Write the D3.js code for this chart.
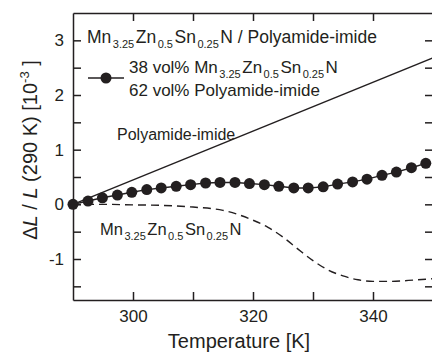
<!DOCTYPE html>
<html>
<head>
<meta charset="utf-8">
<script src="https://cdn.jsdelivr.net/npm/d3@7"></script>
<style>
  body { margin: 0; background: #fff; }
  svg { display: block; font-family: "Liberation Sans", Arial, sans-serif; }
  .axis path, .axis line { stroke: #231f20; stroke-width: 1.5; }
  .axis text { fill: #231f20; font-size: 17px; font-family: "Liberation Sans", Arial, sans-serif; }
</style>
</head>
<body>
<div id="plot"></div>
<script>
// composite: 38 vol% Mn3.25Zn0.5Sn0.25N / 62 vol% polyamide-imide
const compT = [290.0, 292.5, 294.9, 297.4, 299.8, 302.3, 304.7, 307.2, 309.6, 312.1, 314.5, 317.0, 319.4,
               321.9, 324.3, 326.8, 329.2, 331.7, 334.1, 336.6, 339.0, 341.5, 343.9, 346.4, 348.8];
const compDL = [0, 0.06, 0.12, 0.17, 0.22, 0.27, 0.30, 0.33, 0.36, 0.39, 0.40, 0.40, 0.38,
                0.36, 0.33, 0.30, 0.30, 0.32, 0.37, 0.41, 0.46, 0.53, 0.59, 0.67, 0.75];

// pure polyamide-imide (straight line)
const paiT = [290, 350];
const paiDL = [0, 2.68];

// pure Mn3.25Zn0.5Sn0.25N (dashed)
const mnT = [290, 295, 300, 305, 310, 315, 320, 322.5, 325, 327.5, 330, 332.5, 335, 337.5, 340, 342.5, 345, 347.5, 350];
const mnDL = [0, 0, -0.01, -0.02, -0.05, -0.11, -0.29, -0.42, -0.6, -0.82, -1.03, -1.2, -1.31, -1.38, -1.41, -1.41, -1.40, -1.38, -1.36];

const xTicks = [300, 310, 320, 330, 340];
const xLabels = [300, 320, 340];
const yTicks = [-1.5, -1, -0.5, 0, 0.5, 1, 1.5, 2, 2.5, 3];

const W = 432, H = 352;
const m = {left: 73, right: 433, top: 13, bottom: 300};
const ink = "#231f20";

const svg = d3.select("#plot").append("svg")
    .attr("width", W)
    .attr("height", H);

const x = d3.scaleLinear().domain([290, 350]).range([m.left, m.right]);
const y = d3.scaleLinear().domain([-1.75, 3.5]).range([m.bottom, m.top]);

// axes, ticks pointing inward
svg.append("g").attr("class", "axis")
    .attr("transform", `translate(0,${m.bottom})`)
    .call(d3.axisBottom(x).tickValues(xTicks).tickSize(-8).tickSizeOuter(0).tickPadding(10)
        .tickFormat(d => xLabels.includes(d) ? d : ""));
svg.append("g").attr("class", "axis")
    .attr("transform", `translate(0,${m.top})`)
    .call(d3.axisTop(x).tickValues(xTicks).tickSize(-8).tickSizeOuter(0).tickFormat(""));
svg.append("g").attr("class", "axis")
    .attr("transform", `translate(${m.left},0)`)
    .call(d3.axisLeft(y).tickValues(yTicks).tickSize(-8).tickSizeOuter(0).tickPadding(9)
        .tickFormat(d => Number.isInteger(d) ? (d < 0 ? "-" + Math.abs(d) : d) : ""));
svg.append("g").attr("class", "axis")
    .attr("transform", `translate(${m.right},0)`)
    .call(d3.axisRight(y).tickValues(yTicks).tickSize(-8).tickSizeOuter(0).tickFormat(""));

const line = d3.line().x(d => x(d[0])).y(d => y(d[1]));

// polyamide-imide
svg.append("path")
    .datum(d3.zip(paiT, paiDL))
    .attr("d", line)
    .attr("fill", "none")
    .attr("stroke", ink)
    .attr("stroke-width", 1.4);

// Mn3.25Zn0.5Sn0.25N
svg.append("path")
    .datum(d3.zip(mnT, mnDL))
    .attr("d", line.curve(d3.curveMonotoneX))
    .attr("fill", "none")
    .attr("stroke", ink)
    .attr("stroke-width", 1.4)
    .attr("stroke-dasharray", "8,5");

// composite
const comp = d3.zip(compT, compDL);
svg.append("path")
    .datum(comp)
    .attr("d", d3.line().x(d => x(d[0])).y(d => y(d[1])))
    .attr("fill", "none")
    .attr("stroke", ink)
    .attr("stroke-width", 1.4);
svg.selectAll("circle.pt")
    .data(comp)
    .enter().append("circle")
    .attr("class", "pt")
    .attr("cx", d => x(d[0]))
    .attr("cy", d => y(d[1]))
    .attr("r", 5.5)
    .attr("fill", ink);

// text with sub/superscripts: parts are [string, kind]
function rich(sel, parts, size) {
    const sub = Math.round(size * 0.65);
    let shift = 0;
    parts.forEach(([s, kind]) => {
        const t = sel.append("tspan").text(s);
        let want = 0;
        if (kind === "sub") { want = size * 0.28; t.attr("font-size", sub).attr("dx", 1.5); }
        if (kind === "sup") { want = -size * 0.42; t.attr("font-size", sub); }
        if (kind === "it") t.attr("font-style", "italic");
        if (!kind && shift > 0) t.attr("dx", 1.5);
        t.attr("dy", want - shift);
        shift = want;
    });
}

function label(px, py, parts, size) {
    const t = svg.append("text")
        .attr("x", px).attr("y", py)
        .attr("font-size", size)
        .attr("fill", ink);
    rich(t, parts, size);
    return t;
}

const mnParts = [["Mn"], ["3.25", "sub"], ["Zn"], ["0.5", "sub"], ["Sn"], ["0.25", "sub"], ["N"]];

label(87, 43, mnParts.concat([[" / Polyamide-imide"]]), 17.5);
label(129, 73, [["38 vol% "]].concat(mnParts), 17);
label(129, 96, [["62 vol% Polyamide-imide"]], 17);

// legend symbol
svg.append("line")
    .attr("x1", 88).attr("x2", 124)
    .attr("y1", 78).attr("y2", 78)
    .attr("stroke", ink).attr("stroke-width", 1.4);
svg.append("circle")
    .attr("cx", 106).attr("cy", 78).attr("r", 5.5)
    .attr("fill", ink);

label(117, 140, [["Polyamide-imide"]], 16);
label(100, 235, mnParts, 16.5);

// axis titles
svg.append("text")
    .attr("x", (m.left + m.right) / 2 - 14).attr("y", 348)
    .attr("text-anchor", "middle")
    .attr("font-size", 20)
    .attr("fill", ink)
    .text("Temperature [K]");

const yl = svg.append("text")
    .attr("transform", "translate(37,150) rotate(-90)")
    .attr("text-anchor", "middle")
    .attr("font-size", 20)
    .attr("fill", ink);
rich(yl, [["Δ"], ["L", "it"], [" / "], ["L", "it"], [" (290 K) [10"], ["-3", "sup"], [" ]"]], 20);
</script>
</body>
</html>
